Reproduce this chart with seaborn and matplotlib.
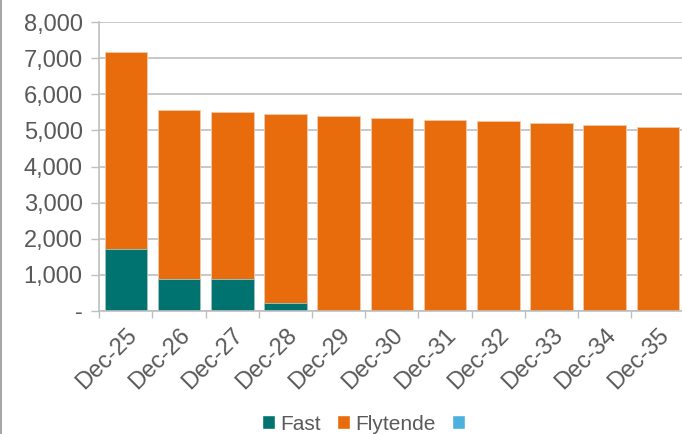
import matplotlib
matplotlib.use("Agg")
import matplotlib.pyplot as plt
import numpy as np
import pandas as pd
import seaborn as sns
from matplotlib.patches import Patch
from matplotlib.lines import Line2D
from matplotlib.ticker import FuncFormatter

# Data
periods = ["Dec-25", "Dec-26", "Dec-27", "Dec-28", "Dec-29", "Dec-30",
           "Dec-31", "Dec-32", "Dec-33", "Dec-34", "Dec-35"]
fast = [1700, 890, 880, 220, 0, 0, 0, 0, 0, 0, 0]
flytende = [5480, 4680, 4630, 5230, 5400, 5350, 5300, 5250, 5200, 5150, 5100]

teal = "#007371"
orange = "#E86C0C"
lightblue = "#4BB2DE"
grey_txt = "#595959"
grid_col = "#BFBFBF"
fs = 17

df = pd.DataFrame({"Periode": periods, "Fast": fast, "Flytende": flytende})
df["Total"] = df["Fast"] + df["Flytende"]

sns.set_style("white")
plt.rcParams["font.family"] = ["Liberation Sans", "DejaVu Sans"]

fig = plt.figure(figsize=(6.82, 4.34), dpi=100)
ax = fig.add_axes([0.1456, 0.284, 0.858, 0.6646])

# stacked: total (orange) first, fast (teal) on top of it at the bottom
sns.barplot(data=df, x="Periode", y="Total", color=orange, width=0.8,
            saturation=1, edgecolor="#F5C9A8", linewidth=0.6, ax=ax)
sns.barplot(data=df, x="Periode", y="Fast", color=teal, width=0.8,
            saturation=1, edgecolor="#9FC9C8", linewidth=0.6, ax=ax)

ax.set_ylim(0, 8000)
ax.set_xlim(-0.5, len(periods) - 0.5)
ax.set_yticks(np.arange(0, 8001, 1000))
ax.yaxis.set_major_formatter(FuncFormatter(lambda v, p: "-" if v == 0 else f"{int(v):,}"))
ax.grid(axis="y", color=grid_col, linewidth=1.2)
ax.set_axisbelow(True)

for s in ["top", "right"]:
    ax.spines[s].set_visible(False)
ax.spines["left"].set_color(grid_col)
ax.spines["bottom"].set_color(grid_col)
ax.spines["left"].set_linewidth(1.2)
ax.spines["bottom"].set_linewidth(1.2)

# x ticks at category boundaries, labels centred under bars
ax.set_xticks(np.arange(-0.5, len(periods), 1.0))
ax.set_xticklabels([])
ax.set_xticks(np.arange(len(periods)), minor=True)
ax.set_xticklabels(periods, minor=True, rotation=45, ha="right",
                   rotation_mode="anchor", fontsize=fs, color=grey_txt)
ax.tick_params(axis="x", which="major", length=5, width=1, color=grid_col,
               direction="out", bottom=True)
ax.tick_params(axis="x", which="minor", length=0, pad=10)
ax.tick_params(axis="y", length=6, width=1, color=grid_col, left=True,
               labelsize=fs, labelcolor=grey_txt, pad=6)
ax.set_xlabel("")
ax.set_ylabel("")

handles = [Patch(facecolor=teal), Patch(facecolor=orange), Patch(facecolor=lightblue)]
fig.legend(handles, ["Fast", "Flytende", ""], loc="center", bbox_to_anchor=(0.537, 0.023),
           ncol=3, frameon=False, fontsize=15, handlelength=0.62, handleheight=0.62,
           handletextpad=0.25, columnspacing=0.8, labelcolor=grey_txt)

# thin frame line on the left edge of the picture
fig.add_artist(Line2D([0.001, 0.001], [0, 1], transform=fig.transFigure,
                      color="#A6A6A6", linewidth=1.5))

fig.savefig("out.png", dpi=100)
